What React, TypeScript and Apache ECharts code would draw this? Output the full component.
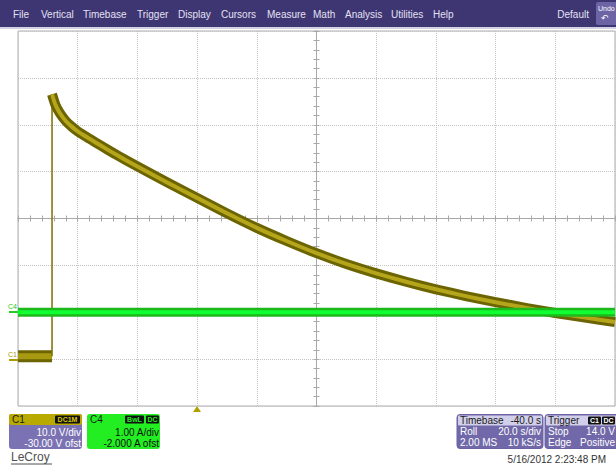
import React, { useEffect, useRef } from "react";
import * as echarts from "echarts";

const menuItems = ["File", "Vertical", "Timebase", "Trigger", "Display", "Cursors", "Measure", "Math", "Analysis", "Utilities", "Help"];
const menuX = [13, 41, 83, 137, 178, 221, 267, 313, 345, 391, 433];

// C1 (volts) vs time (s)
const c1BaseTimes = [-60, -48.6];
const c1BaseVolts = [0.6, 0.6];
const c1StepTimes = [-48.6, -48.6];
const c1StepVolts = [0.6, 56.5];
const c1Times = [-48.6, -47.5, -46, -44, -42, -40, -36, -32, -28, -24, -20, -10, 0, 10, 20, 30, 40, 50, 60, 70, 80, 90, 100, 110, 120, 130, 140];
const c1Volts = [56.5, 54.3, 52.5, 50.8, 49.6, 48.6, 47.0, 45.45, 43.95, 42.5, 41.1, 37.7, 34.4, 31.1, 28.0, 25.2, 22.6, 20.3, 18.3, 16.5, 14.9, 13.45, 12.15, 10.95, 9.85, 8.85, 7.9];

// C4 (amps) vs time (s)
const c4Times = [-60, 140];
const c4Amps = [0.0, 0.0];

const FONT = "'Liberation Sans', Arial, sans-serif";

function pairs(xs: number[], ys: number[]) {
  return xs.map((x, i) => [x, ys[i]]);
}

function txt(x: number, y: number, text: string, fill: string, size = 10, align = "left", extra: any = {}) {
  return {
    type: "text",
    x,
    y,
    silent: true,
    style: { text, fill, font: `${extra.fontWeight || "normal"} ${size}px ${FONT}`, textAlign: align, textVerticalAlign: "middle" },
  };
}

function rect(x: number, y: number, w: number, h: number, fill: string, r = 0, stroke?: string) {
  return {
    type: "rect",
    shape: { x, y, width: w, height: h, r },
    silent: true,
    style: stroke ? { fill, stroke, lineWidth: 1 } : { fill },
  };
}

export default function App() {
  const ref = useRef<HTMLDivElement>(null);
  useEffect(() => {
    if (!ref.current) return;
    const chart = echarts.init(ref.current, null, { renderer: "svg" });

    const gridColor = "#c4c4c4";
    const tickStyle = { color: "#a8a8a8" };
    const centerAxisBase = {
      type: "value",
      min: -60,
      max: 140,
      interval: 20,
      gridIndex: 0,
      position: "bottom",
      offset: -187.5,
      axisLine: { show: true, onZero: false, lineStyle: { color: "#a8a8a8", width: 1 } },
      axisLabel: { show: false },
      splitLine: { show: false },
    };
    const centerYBase = {
      type: "value",
      min: -10,
      max: 70,
      interval: 10,
      gridIndex: 0,
      position: "left",
      offset: -298.5,
      axisLine: { show: true, onZero: false, lineStyle: { color: "#a8a8a8", width: 1 } },
      axisLabel: { show: false },
      splitLine: { show: false },
    };

    const graphics: any[] = [];
    // menu bar
    graphics.push(rect(0, 0, 616, 27, "#3e3573"));
    graphics.push(rect(0, 27, 616, 2, "#d4d2e2"));
    menuItems.forEach((m, i) => graphics.push(txt(menuX[i], 14, m, "#e4e2f2", 10)));
    graphics.push(txt(589, 14, "Default", "#e4e2f2", 10, "right"));
    graphics.push(rect(596, 2, 24, 23, "#6c64a4", 2));
    graphics.push(txt(598, 8, "Undo", "#ffffff", 7));
    graphics.push(txt(601, 18, "\u21B6", "#ffffff", 9));

    // channel markers
    graphics.push(txt(8, 306, "C4", "#22cc22", 7));
    graphics.push({ type: "line", silent: true, shape: { x1: 9, y1: 312, x2: 18, y2: 312 }, style: { stroke: "#22cc22", lineWidth: 2 } });
    graphics.push(txt(8, 354, "C1", "#a89a00", 7));
    graphics.push({ type: "line", silent: true, shape: { x1: 9, y1: 360, x2: 18, y2: 360 }, style: { stroke: "#a89a00", lineWidth: 2 } });

    // trigger marker
    graphics.push({ type: "polygon", silent: true, shape: { points: [[193, 412], [201, 412], [197, 406]] }, style: { fill: "#b0a000" } });

    // C1 box
    graphics.push(rect(9, 414, 73, 35, "#7a72b2", 3));
    graphics.push(rect(9, 414, 73, 11, "#b9aa00", 2));
    graphics.push(txt(12, 419.5, "C1", "#1a1a1a", 10));
    graphics.push(rect(55, 415.5, 25, 8, "#111111", 1));
    graphics.push(txt(67.5, 419.5, "DC1M", "#d8c800", 7, "center", { fontWeight: "bold" }));
    graphics.push(txt(81, 432, "10.0 V/div", "#ffffff", 10, "right"));
    graphics.push(txt(81, 443, "-30.00 V ofst", "#ffffff", 10, "right"));

    // C4 box
    graphics.push(rect(87, 414, 73, 35, "#22ee22", 3));
    graphics.push(txt(90, 419.5, "C4", "#1a1a1a", 10));
    graphics.push(rect(125, 415.5, 19, 8, "#111111", 1));
    graphics.push(txt(134.5, 419.5, "BwL", "#22ee22", 7, "center", { fontWeight: "bold" }));
    graphics.push(rect(146, 415.5, 13, 8, "#111111", 1));
    graphics.push(txt(152.5, 419.5, "DC", "#22ee22", 7, "center", { fontWeight: "bold" }));
    graphics.push(txt(159, 432, "1.00 A/div", "#111111", 10, "right"));
    graphics.push(txt(159, 443, "-2.000 A ofst", "#111111", 10, "right"));

    // LeCroy logo
    graphics.push(txt(11, 457, "LeCroy", "#505050", 12));
    graphics.push({ type: "line", silent: true, shape: { x1: 11, y1: 464, x2: 52, y2: 464 }, style: { stroke: "#505050", lineWidth: 1 } });

    // Timebase box
    graphics.push(rect(457, 414.5, 86, 34, "#7068a8", 3, "#6a62a2"));
    graphics.push(rect(458, 415.5, 84, 10, "#d2cfea", 1));
    graphics.push(txt(460, 420.5, "Timebase", "#1a1a1a", 10));
    graphics.push(txt(541, 420.5, "-40.0 s", "#1a1a1a", 10, "right"));
    graphics.push(txt(460, 431, "Roll", "#ffffff", 10));
    graphics.push(txt(541, 431, "20.0 s/div", "#ffffff", 10, "right"));
    graphics.push(txt(460, 442, "2.00 MS", "#ffffff", 10));
    graphics.push(txt(541, 442, "10 kS/s", "#ffffff", 10, "right"));

    // Trigger box
    graphics.push(rect(545, 414.5, 80, 34, "#7068a8", 3, "#6a62a2"));
    graphics.push(rect(546, 415.5, 78, 10, "#d2cfea", 1));
    graphics.push(txt(548, 420.5, "Trigger", "#1a1a1a", 10));
    graphics.push(rect(588, 416.5, 13, 8, "#111111", 1));
    graphics.push(txt(594.5, 420.5, "C1", "#ffffff", 7, "center", { fontWeight: "bold" }));
    graphics.push(rect(602, 416.5, 13, 8, "#111111", 1));
    graphics.push(txt(608.5, 420.5, "DC", "#ffffff", 7, "center", { fontWeight: "bold" }));
    graphics.push(txt(548, 431, "Stop", "#ffffff", 10));
    graphics.push(txt(615, 431, "14.0 V", "#ffffff", 10, "right"));
    graphics.push(txt(548, 442, "Edge", "#ffffff", 10));
    graphics.push(txt(615, 442, "Positive", "#ffffff", 10, "right"));

    // date
    graphics.push(txt(606, 459, "5/16/2012 2:23:48 PM", "#333333", 10, "right"));

    const option: any = {
      animation: false,
      backgroundColor: "#ffffff",
      grid: { left: 18, top: 31, width: 597, height: 375, show: true, borderColor: "#ababab", borderWidth: 1, backgroundColor: "transparent" },
      xAxis: [
        {
          type: "value",
          min: -60,
          max: 140,
          interval: 20,
          axisLine: { show: false },
          axisTick: { show: false },
          axisLabel: { show: false },
          splitLine: { show: true, lineStyle: { color: gridColor, type: "dotted", width: 1 } },
        },
        { ...centerAxisBase, axisTick: { show: true, inside: true, length: 3, lineStyle: tickStyle }, minorTick: { show: true, splitNumber: 5, length: 3, lineStyle: tickStyle } },
        { ...centerAxisBase, axisTick: { show: true, inside: false, length: 3, lineStyle: tickStyle }, minorTick: { show: true, splitNumber: 5, length: 3, lineStyle: tickStyle } },
      ],
      yAxis: [
        {
          type: "value",
          min: -10,
          max: 70,
          interval: 10,
          axisLine: { show: false },
          axisTick: { show: false },
          axisLabel: { show: false },
          splitLine: { show: true, lineStyle: { color: gridColor, type: "dotted", width: 1 } },
        },
        { type: "value", min: -2, max: 6, interval: 1, show: false },
        { ...centerYBase, axisTick: { show: true, inside: true, length: 3, lineStyle: tickStyle }, minorTick: { show: true, splitNumber: 5, length: 3, lineStyle: tickStyle } },
        { ...centerYBase, axisTick: { show: true, inside: false, length: 3, lineStyle: tickStyle }, minorTick: { show: true, splitNumber: 5, length: 3, lineStyle: tickStyle } },
      ],
      graphic: { elements: graphics },
      series: [
        { name: "C1 base outer", type: "line", data: pairs(c1BaseTimes, c1BaseVolts), showSymbol: false, silent: true, lineStyle: { color: "#6b6400", width: 12 } },
        { name: "C1 base inner", type: "line", data: pairs(c1BaseTimes, c1BaseVolts), showSymbol: false, silent: true, lineStyle: { color: "#a89a10", width: 6 } },
        { name: "C1 step", type: "line", data: pairs(c1StepTimes, c1StepVolts), showSymbol: false, silent: true, lineStyle: { color: "#7a7000", width: 1.5 } },
        { name: "C1 outer", type: "line", data: pairs(c1Times, c1Volts), smooth: 0.2, showSymbol: false, silent: true, lineStyle: { color: "#6b6400", width: 10, join: "round" } },
        { name: "C1 inner", type: "line", data: pairs(c1Times, c1Volts), smooth: 0.2, showSymbol: false, silent: true, lineStyle: { color: "#b5a51a", width: 4, join: "round" } },
        { name: "C4 outer", type: "line", yAxisIndex: 1, data: pairs(c4Times, c4Amps), showSymbol: false, silent: true, lineStyle: { color: "#1cb81c", width: 9 } },
        { name: "C4 inner", type: "line", yAxisIndex: 1, data: pairs(c4Times, c4Amps), showSymbol: false, silent: true, lineStyle: { color: "#10ff30", width: 4 } },
      ],
    };
    chart.setOption(option);
    return () => chart.dispose();
  }, []);
  return <div ref={ref} style={{ position: "fixed", left: 0, top: 0, width: 616, height: 468, background: "#fff" }} />;
}
